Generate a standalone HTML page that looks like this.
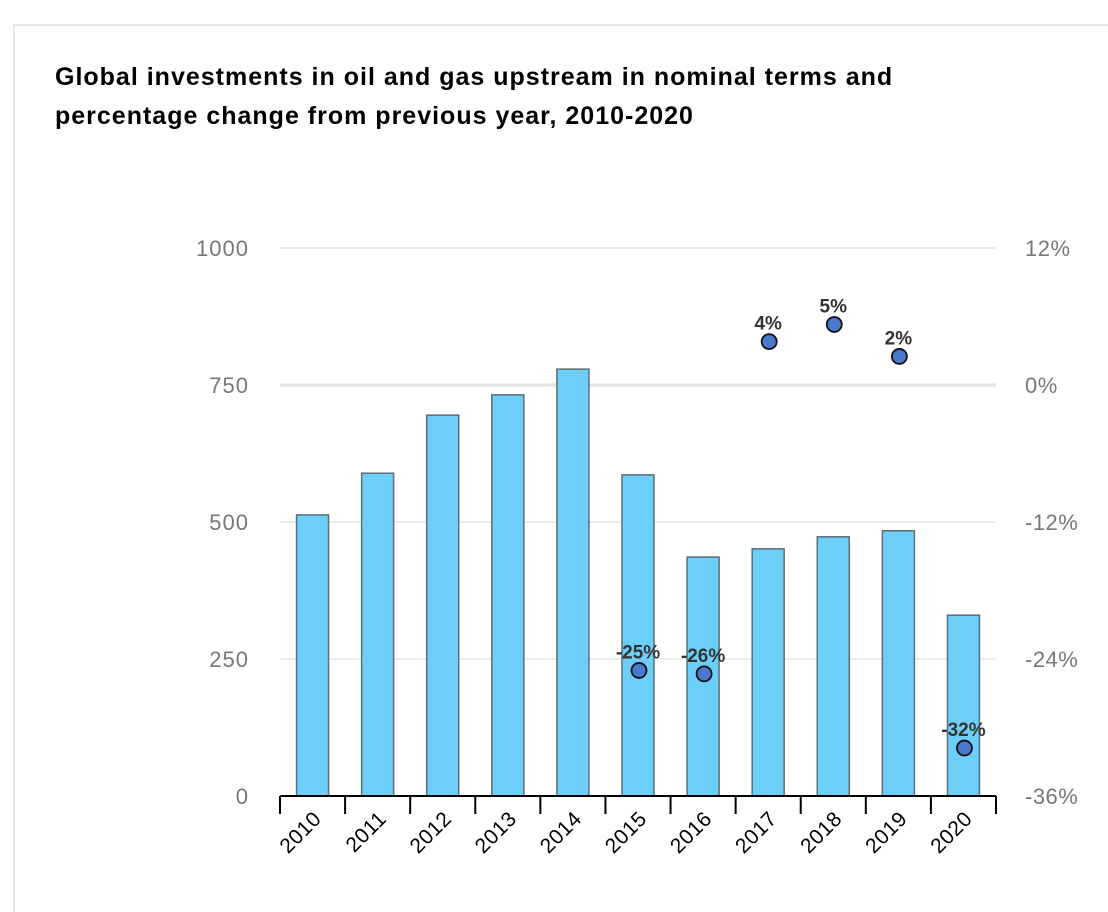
<!DOCTYPE html>
<html style="overflow:hidden;height:912px"><head><meta charset="utf-8"><style>
body{margin:0;background:#fff;width:1108px;height:912px;overflow:hidden;font-family:"Liberation Sans",sans-serif;position:relative}
#card{position:absolute;left:13px;top:24px;width:1100px;height:900px;border:2px solid #e6e6e6;box-sizing:border-box}
#title{position:absolute;left:55px;top:58px;font-size:25px;font-weight:bold;line-height:39px;color:#000;letter-spacing:1px}
svg{position:absolute;left:0;top:0}
</style></head><body>
<div id="card"></div>
<div id="title">Global investments in oil and gas upstream in nominal terms and<br>percentage change from previous year, 2010-2020</div>
<svg id="chart" width="1108" height="912"></svg>
<script>
const categories=["2010","2011","2012","2013","2014","2015","2016","2017","2018","2019","2020"];
const investment=[513,589,695,732,779,586,436,451,473,484,330];
const pctChange=[null,null,null,null,null,-25,-25.3,3.8,5.3,2.5,-31.8];
const pctLabels=["","","","","","-25%","-26%","4%","5%","2%","-32%"];
const leftTicks=[0,250,500,750,1000];
const rightTicks=[-36,-24,-12,0,12];
const NS="http://www.w3.org/2000/svg";
const svg=document.getElementById('chart');
const X0=280,X1=996,Y0=796,Y1=248;
const bw=(X1-X0)/categories.length;
const yL=v=>Y0-(v/1000)*(Y0-Y1);
const yR=v=>Y0-((v+36)/48)*(Y0-Y1);
const xc=i=>X0+bw*(i+0.5);
function el(t,a,p){const e=document.createElementNS(NS,t);for(const k in a)e.setAttribute(k,a[k]);(p||svg).appendChild(e);return e;}
leftTicks.forEach((t,i)=>{
  if(t>0){const g=el('line',{x1:X0,x2:X1,y1:yL(t),y2:yL(t),stroke:t===750?'#e2e2e2':'#e6e6e6','stroke-width':t===750?3:1.5});
  
  }
  const l=el('text',{x:249,y:yL(t)+8,'text-anchor':'end','font-size':22,'letter-spacing':1,fill:'#777'});l.textContent=t;
  
  
});
rightTicks.forEach(t=>{
  const l=el('text',{x:1025,y:yR(t)+8,'font-size':22,'letter-spacing':0.5,fill:'#777'});l.textContent=t+'%';
  
  
});
categories.forEach((c,i)=>{
  const b=el('rect',{x:xc(i)-16,y:yL(investment[i]),width:32,height:Y0-yL(investment[i]),fill:'#6dcff7',stroke:'#5a6e78','stroke-width':1.5});
  
  
  const tk=el('line',{x1:X0+bw*(i+1),x2:X0+bw*(i+1),y1:Y0,y2:Y0+18,stroke:'#000','stroke-width':2});
  
  
  const lx=xc(i)+10,ly=820;
  const t=el('text',{x:lx,y:ly,'text-anchor':'end','font-size':21,'letter-spacing':0.5,fill:'#000',transform:`rotate(-45 ${lx} ${ly})`});t.textContent=c;
  
  
});
el('line',{x1:X0,x2:X1,y1:Y0,y2:Y0,stroke:'#000','stroke-width':2});
el('line',{x1:X0,x2:X0,y1:Y0,y2:Y0+18,stroke:'#000','stroke-width':2});
pctChange.forEach((v,i)=>{
  if(v===null)return;
  const cy=yR(v);
  const d=el('circle',{cx:xc(i)+1,cy:cy,r:7.5,fill:'#4a78cc',stroke:'#111','stroke-width':1.8});
  
  
  const t=el('text',{x:xc(i),y:cy-12,'text-anchor':'middle','font-size':19,'font-weight':'bold',fill:'#333'});t.textContent=pctLabels[i];
  
  
});
</script>
</body></html>
